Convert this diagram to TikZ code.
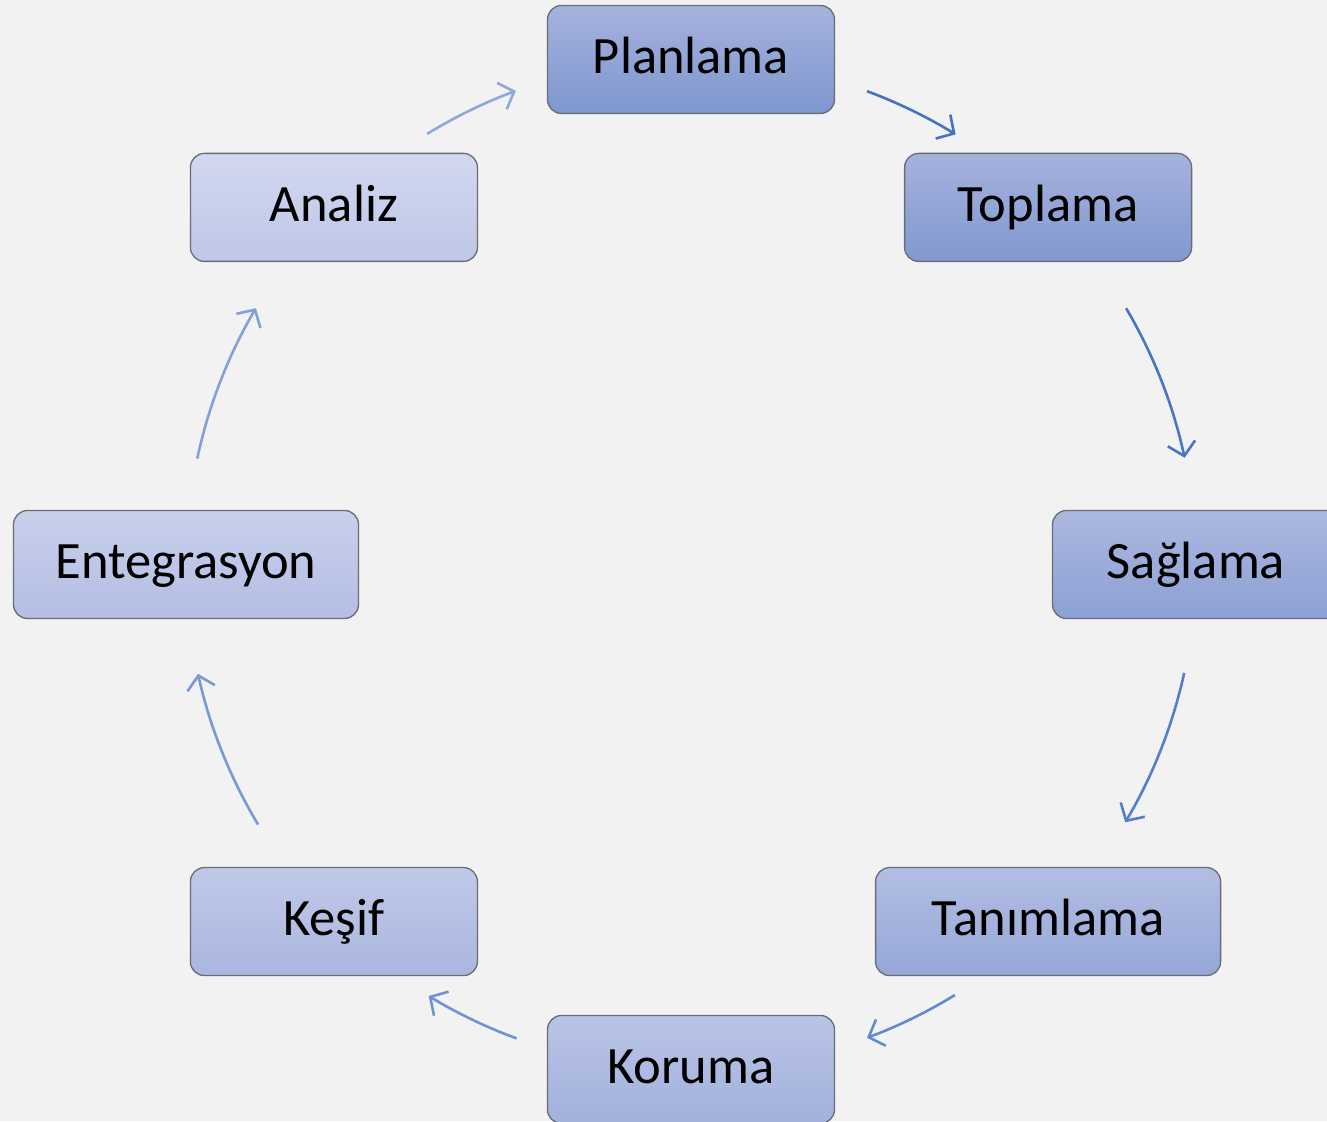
\documentclass[tikz,border=0pt]{standalone}
\usepackage{fontspec}
\setmainfont{Carlito}
\usetikzlibrary{arrows.meta,calc}
\definecolor{bg}{RGB}{242,242,242}
\definecolor{bord}{RGB}{105,108,118}
\definecolor{t1}{RGB}{166,178,221}\definecolor{b1}{RGB}{126,150,207}
\definecolor{t2}{RGB}{165,178,221}\definecolor{b2}{RGB}{130,152,208}
\definecolor{t3}{RGB}{172,184,224}\definecolor{b3}{RGB}{140,160,212}
\definecolor{t4}{RGB}{178,190,227}\definecolor{b4}{RGB}{150,167,215}
\definecolor{t5}{RGB}{185,196,230}\definecolor{b5}{RGB}{162,176,220}
\definecolor{t6}{RGB}{192,201,232}\definecolor{b6}{RGB}{170,182,223}
\definecolor{t7}{RGB}{200,208,236}\definecolor{b7}{RGB}{180,190,227}
\definecolor{t8}{RGB}{210,216,239}\definecolor{b8}{RGB}{190,199,231}
\definecolor{a1}{RGB}{68,114,196}
\definecolor{a2}{RGB}{72,117,198}
\definecolor{a3}{RGB}{85,127,202}
\definecolor{a4}{RGB}{100,137,206}
\definecolor{a5}{RGB}{112,146,210}
\definecolor{a6}{RGB}{122,152,212}
\definecolor{a7}{RGB}{133,160,216}
\definecolor{a8}{RGB}{143,167,219}
\tikzset{
  stagebox/.style={draw=bord, line width=1.3pt, rounded corners=14pt,
    minimum width=287pt, minimum height=108pt, inner sep=0pt,
    font=\fontsize{52.5}{60}\selectfont, text height=33pt, text depth=5pt},
  widebox/.style={stagebox, minimum width=345pt},
  cyc/.style={line width=2.6pt, -{Straight Barb[length=13pt,width=28pt,line width=2.6pt]}}
}
\begin{document}
\begin{tikzpicture}[x=1pt,y=1pt]
\useasboundingbox (0,0) rectangle (1327,1121);
\clip (0,0) rectangle (1327,1121);
\fill[bg] (0,0) rectangle (1327,1121);
\coordinate (O) at (691,556.5);
\node[stagebox, top color=t1, bottom color=b1] (plan) at ($(O)+(90:505)$) {Planlama};
\node[stagebox, top color=t2, bottom color=b2] (topl) at ($(O)+(45:505)$) {Toplama};
\node[stagebox, top color=t3, bottom color=b3] (sagl) at ($(O)+(0:505)$) {Sağlama};
\node[widebox, top color=t4, bottom color=b4] (tani) at ($(O)+(-45:505)$) {Tanımlama};
\node[stagebox, top color=t5, bottom color=b5] (koru) at ($(O)+(-90:505)$) {Koruma};
\node[stagebox, top color=t6, bottom color=b6] (kesi) at ($(O)+(-135:505)$) {Keşif};
\node[widebox, top color=t7, bottom color=b7] (ente) at ($(O)+(180:505)$) {Entegrasyon};
\node[stagebox, top color=t8, bottom color=b8] (anal) at ($(O)+(135:505)$) {Analiz};
% arc start points
\coordinate (s1) at ($(O)+(69.6:505)$);
\coordinate (s2) at ($(O)+(30.5:505)$);
\coordinate (s3) at ($(O)+(-12.4:505)$);
\coordinate (s4) at ($(O)+(-58.5:505)$);
\coordinate (s5) at ($(O)+(-110.2:505)$);
\coordinate (s6) at ($(O)+(-149:505)$);
\coordinate (s7) at ($(O)+(167.9:505)$);
\coordinate (s8) at ($(O)+(121.5:505)$);
\draw[cyc, a1] (s1) arc[start angle=69.6, end angle=58.4, radius=505];
\draw[cyc, a2] (s2) arc[start angle=30.5, end angle=12.2, radius=505];
\draw[cyc, a3] (s3) arc[start angle=-12.4, end angle=-30.7, radius=505];
\draw[cyc, a4] (s4) arc[start angle=-58.5, end angle=-69.6, radius=505];
\draw[cyc, a5] (s5) arc[start angle=-110.2, end angle=-121.3, radius=505];
\draw[cyc, a6] (s6) arc[start angle=-149, end angle=-167.5, radius=505];
\draw[cyc, a7] (s7) arc[start angle=167.9, end angle=149.5, radius=505];
\draw[cyc, a8] (s8) arc[start angle=121.5, end angle=110.3, radius=505];
\end{tikzpicture}
\end{document}
